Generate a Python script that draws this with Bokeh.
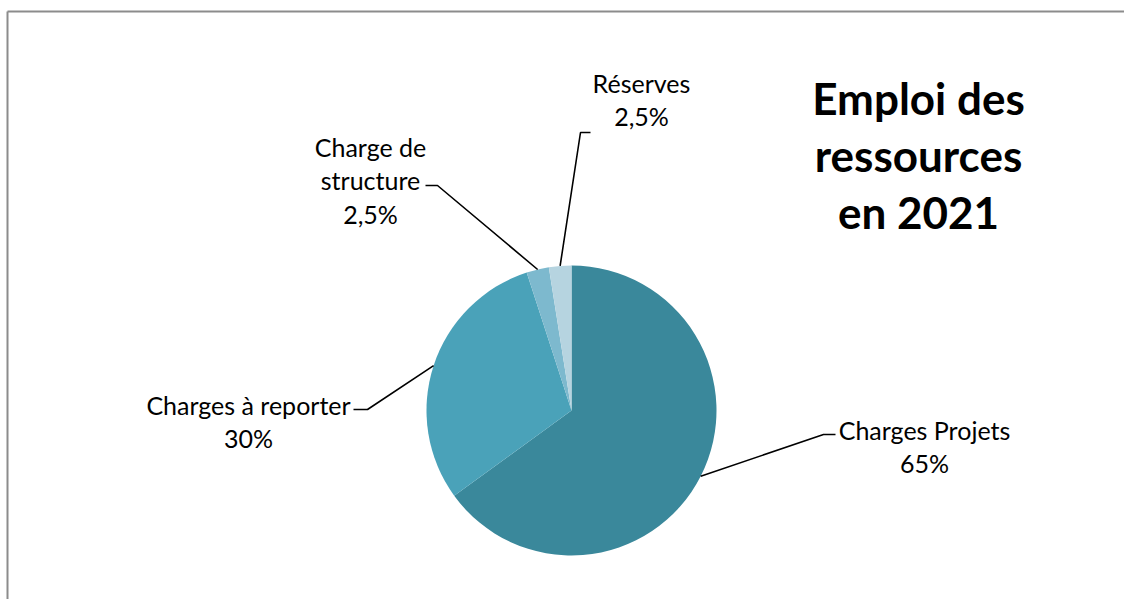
import numpy as np
from bokeh.plotting import figure
from bokeh.models import Range1d
from bokeh.core.properties import value
from bokeh.embed import file_html
from bokeh.resources import INLINE

# ---- data ----
categories = ["Charges Projets", "Charges à reporter", "Charge de structure", "Réserves"]
values = [65, 30, 2.5, 2.5]
pct_labels = ["65%", "30%", "2,5%", "2,5%"]
label_lines = [["Charges Projets"], ["Charges à reporter"], ["Charge de", "structure"], ["Réserves"]]
colors = ["#3A889B", "#4AA2B9", "#7DB9CE", "#B6D4E0"]
title_lines = ["Emploi des", "ressources", "en 2021"]

W, H = 1124, 599
p = figure(width=W, height=H, output_backend="svg", toolbar_location=None,
           x_range=Range1d(0, W), y_range=Range1d(0, H), min_border=0)
p.axis.visible = False
p.grid.visible = False
p.outline_line_color = None
p.background_fill_color = "white"

def Y(ypix):
    return H - ypix

# frame border (only top/left visible in the crop)
p.segment(x0=[7, 7], y0=[Y(11), Y(11)], x1=[W + 20, 7], y1=[Y(11), -20],
          line_color="#8C8C8C", line_width=2)

# pie
cx, cy, r = 571, Y(410), 145
vals = np.array(values, dtype=float)
frac = vals / vals.sum()
cum = np.concatenate([[0], np.cumsum(frac)])
starts = np.pi / 2 - 2 * np.pi * cum[:-1]
ends = np.pi / 2 - 2 * np.pi * cum[1:]
p.wedge(x=cx, y=cy, radius=r, start_angle=starts, end_angle=ends, direction="clock",
        fill_color=colors, line_color=None)

# leader lines: from mid of slice edge to label elbow
mids = np.pi / 2 - 2 * np.pi * (cum[:-1] + cum[1:]) / 2
elbows = [(823, 434), (367, 409), (437, 185), (580, 132)]
ends_h = [(835, 434), (353, 409), (425, 185), (590, 132)]
xs, ys = [], []
for m, (ex, ey), (hx, hy) in zip(mids, elbows, ends_h):
    sx, sy = cx + r * np.cos(m), cy + r * np.sin(m)
    xs.append([sx, ex, hx])
    ys.append([sy, Y(ey), Y(hy)])
p.multi_line(xs=xs, ys=ys, line_color="black", line_width=1.6)

# labels
label_pos = [(924, 429), (248, 404), (370, 146), (641, 82)]
lh = 33.5
tx, ty, tt = [], [], []
for lines, pct, (lx, ly) in zip(label_lines, pct_labels, label_pos):
    for i, s in enumerate(lines + [pct]):
        tx.append(lx)
        ty.append(Y(ly + i * lh))
        tt.append(s)
p.text(x=tx, y=ty, text=tt, text_align="center", text_baseline="middle",
       text_font=value("Lato"), text_font_size="25px", text_color="black")

# title
p.text(x=[918] * 3, y=[Y(97), Y(154), Y(211)], text=title_lines, text_align="center",
       text_baseline="middle", text_font=value("Lato"), text_font_size="44px",
       text_font_style="bold", text_color="black")

open("out.html", "w").write(file_html(p, INLINE))
